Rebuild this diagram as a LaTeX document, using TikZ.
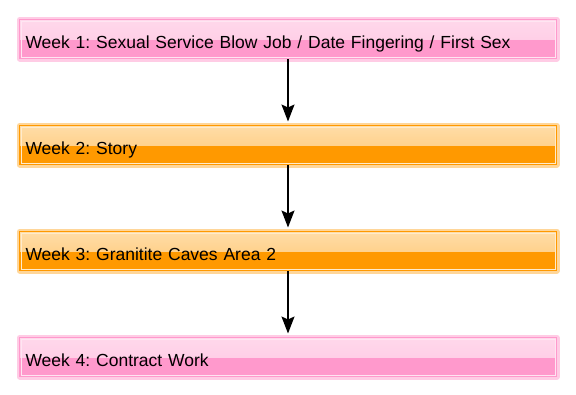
\documentclass[tikz,border=0pt]{standalone}
\usepackage{fontspec}
\setmainfont{Liberation Sans}
\usetikzlibrary{arrows.meta,positioning}

\definecolor{pinkbot}{HTML}{FF99CC}
\definecolor{pinktop}{HTML}{FFD8EB}
\definecolor{pinkhalo}{HTML}{FFCCE5}
\definecolor{orangebot}{HTML}{FF9900}
\definecolor{orangetop}{HTML}{FFDDA8}
\definecolor{orangehalo}{HTML}{FFD699}

\begin{document}
\frenchspacing
\begin{tikzpicture}[x=1pt,y=1pt,
  week/.style={rectangle, anchor=north west, fill=#1bot, draw=#1bot, line width=1pt,
    text width=525pt, inner xsep=6pt, inner ysep=4pt, minimum height=39pt,
    text height=18pt, text depth=0pt, font={\fontsize{17.5}{20}\selectfont},
    preaction={draw=#1halo, line width=6pt, line join=round},
    path picture={
      \fill[top color=#1top, bottom color=#1bot!55!white] (path picture bounding box.north west) rectangle (path picture bounding box.east);
      \draw[#1halo!50!white, line width=1pt] ([shift={(1.5pt,-1.5pt)}]path picture bounding box.north west) rectangle ([shift={(-1.5pt,1.5pt)}]path picture bounding box.south east);
    }},
  flow/.style={-{Stealth[length=17pt,width=13pt,inset=3pt]}, line width=1.5pt, shorten >=3.5pt}]

\useasboundingbox (0,0) rectangle (576,-394);

\node [week=pink] (w1) at (19,-19) {Week 1: Sexual Service Blow Job / Date Fingering / First Sex};

\node [week=orange] (w2) at (19,-125) {Week 2: Story};

\node [week=orange] (w3) at (19,-231) {Week 3: Granitite Caves Area 2};

\node [week=pink] (w4) at (19,-337) {Week 4: Contract Work};

\draw [flow] (w1.south) -- (w2.north);
\draw [flow] (w2.south) -- (w3.north);
\draw [flow] (w3.south) -- (w4.north);

\end{tikzpicture}
\end{document}
